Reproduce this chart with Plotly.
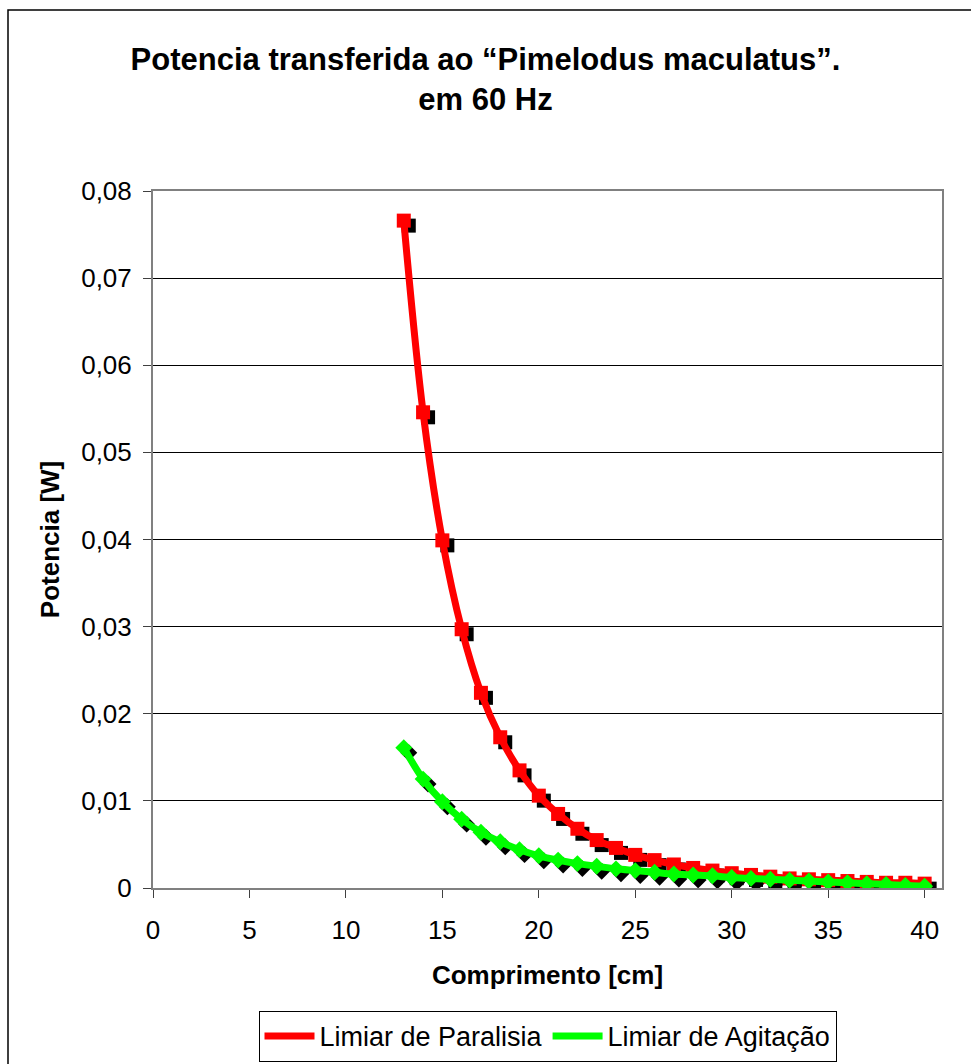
import plotly.graph_objects as go

# ---- data ----
comprimento = [13, 14, 15, 16, 17, 18, 19, 20, 21, 22, 23, 24, 25, 26, 27,
               28, 29, 30, 31, 32, 33, 34, 35, 36, 37, 38, 39, 40]
paralisia = [0.0766, 0.0546, 0.0399, 0.0297, 0.0224, 0.0173, 0.0135, 0.0106,
             0.0085, 0.0068, 0.0055, 0.0046, 0.0038, 0.0032, 0.0027, 0.0023,
             0.0020, 0.0017, 0.0015, 0.0013, 0.0011, 0.0010, 0.0009, 0.0008,
             0.0007, 0.0006, 0.0006, 0.0005]
agitacao = [0.0161, 0.0125, 0.0099, 0.0079, 0.0064, 0.0053, 0.0044, 0.0037,
            0.0032, 0.0028, 0.0025, 0.0022, 0.0020, 0.0018, 0.0016, 0.0015,
            0.0014, 0.0012, 0.0011, 0.0010, 0.0009, 0.0008, 0.0007, 0.0006,
            0.0005, 0.0004, 0.0003, 0.0002]
series_names = ["Limiar de Paralisia", "Limiar de Agitação"]
y_tickvals = [0, 0.01, 0.02, 0.03, 0.04, 0.05, 0.06, 0.07, 0.08]
y_ticktext = ["0", "0,01", "0,02", "0,03", "0,04", "0,05", "0,06", "0,07", "0,08"]
x_tickvals = [0, 5, 10, 15, 20, 25, 30, 35, 40]

# ---- layout geometry ----
W, H = 971, 1064
ML, MR, MT, MB = 153, 29, 191, 176
X_MAX = 40.9
Y_MAX = 0.08
px_x = (W - ML - MR) / X_MAX
px_y = (H - MT - MB) / Y_MAX
SH = 5  # shadow offset in px
dx = SH / px_x
dy = SH / px_y

FONT = "Liberation Sans, Arial, sans-serif"
RED = "#FF0000"
GREEN = "#00FF00"

fig = go.Figure()

# shadows
fig.add_trace(go.Scatter(
    x=[v + dx for v in comprimento], y=[v - dy for v in paralisia],
    mode="markers", marker=dict(symbol="square", size=14, color="black"),
    showlegend=False, hoverinfo="skip"))
fig.add_trace(go.Scatter(
    x=[v + dx for v in comprimento], y=[v - dy for v in agitacao],
    mode="markers", marker=dict(symbol="diamond", size=13, color="black"),
    showlegend=False, hoverinfo="skip"))

# red series
fig.add_trace(go.Scatter(
    x=comprimento, y=paralisia, mode="markers",
    marker=dict(symbol="square", size=14, color=RED),
    showlegend=False))
fig.add_trace(go.Scatter(
    x=comprimento, y=paralisia, mode="lines", name=series_names[0],
    line=dict(color=RED, width=7, shape="spline")))

# green series
fig.add_trace(go.Scatter(
    x=comprimento, y=agitacao, mode="markers",
    marker=dict(symbol="diamond", size=13, color=GREEN),
    showlegend=False))
fig.add_trace(go.Scatter(
    x=comprimento, y=agitacao, mode="lines", name=series_names[1],
    line=dict(color=GREEN, width=7, shape="spline")))

fig.update_layout(
    width=W, height=H,
    margin=dict(l=ML, r=MR, t=MT, b=MB, pad=0),
    paper_bgcolor="white", plot_bgcolor="white",
    font=dict(family=FONT, size=26, color="black"),
    title=dict(
        text="<b>Potencia transferida ao “Pimelodus maculatus”.<br>em 60 Hz</b>",
        x=0.5, xanchor="center", xref="container",
        y=1 - 70 / H, yanchor="middle", yref="container",
        font=dict(family=FONT, size=31, color="black")),
    xaxis=dict(
        range=[0, X_MAX], tickvals=x_tickvals,
        showgrid=False, zeroline=False,
        showline=True, linecolor="#808080", linewidth=2, mirror=True,
        ticks="outside", ticklen=8, tickcolor="#404040", tickwidth=1,
        ticklabelstandoff=10,
        tickfont=dict(size=26),
        title=dict(text="<b>Comprimento [cm]</b>", font=dict(size=26), standoff=22)),
    yaxis=dict(
        range=[0, Y_MAX], tickvals=y_tickvals, ticktext=y_ticktext,
        showgrid=True, gridcolor="black", gridwidth=1, zeroline=False,
        showline=True, linecolor="#808080", linewidth=2, mirror=True,
        ticks="outside", ticklen=8, tickcolor="#404040", tickwidth=1,
        ticklabelstandoff=6,
        tickfont=dict(size=26),
        title=dict(text="<b>Potencia [W]</b>", font=dict(size=26), standoff=14)),
    legend=dict(
        orientation="h", x=0.5, xanchor="center", xref="paper",
        y=0.002, yanchor="bottom", yref="container",
        bordercolor="black", borderwidth=1, bgcolor="white",
        font=dict(size=27), itemwidth=50, tracegroupgap=0),
    showlegend=True,
)

# outer chart border
fig.add_shape(type="rect", xref="paper", yref="paper",
              x0=(8 - ML) / (W - ML - MR), x1=1.2,
              y0=-0.4, y1=1 + (MT - 10) / (H - MT - MB),
              line=dict(color="black", width=1.5), fillcolor="rgba(0,0,0,0)",
              layer="below")

fig.write_html("out.html",
               config={"displayModeBar": False},
               post_script="document.body.style.margin='0px';document.body.style.padding='0px';")
